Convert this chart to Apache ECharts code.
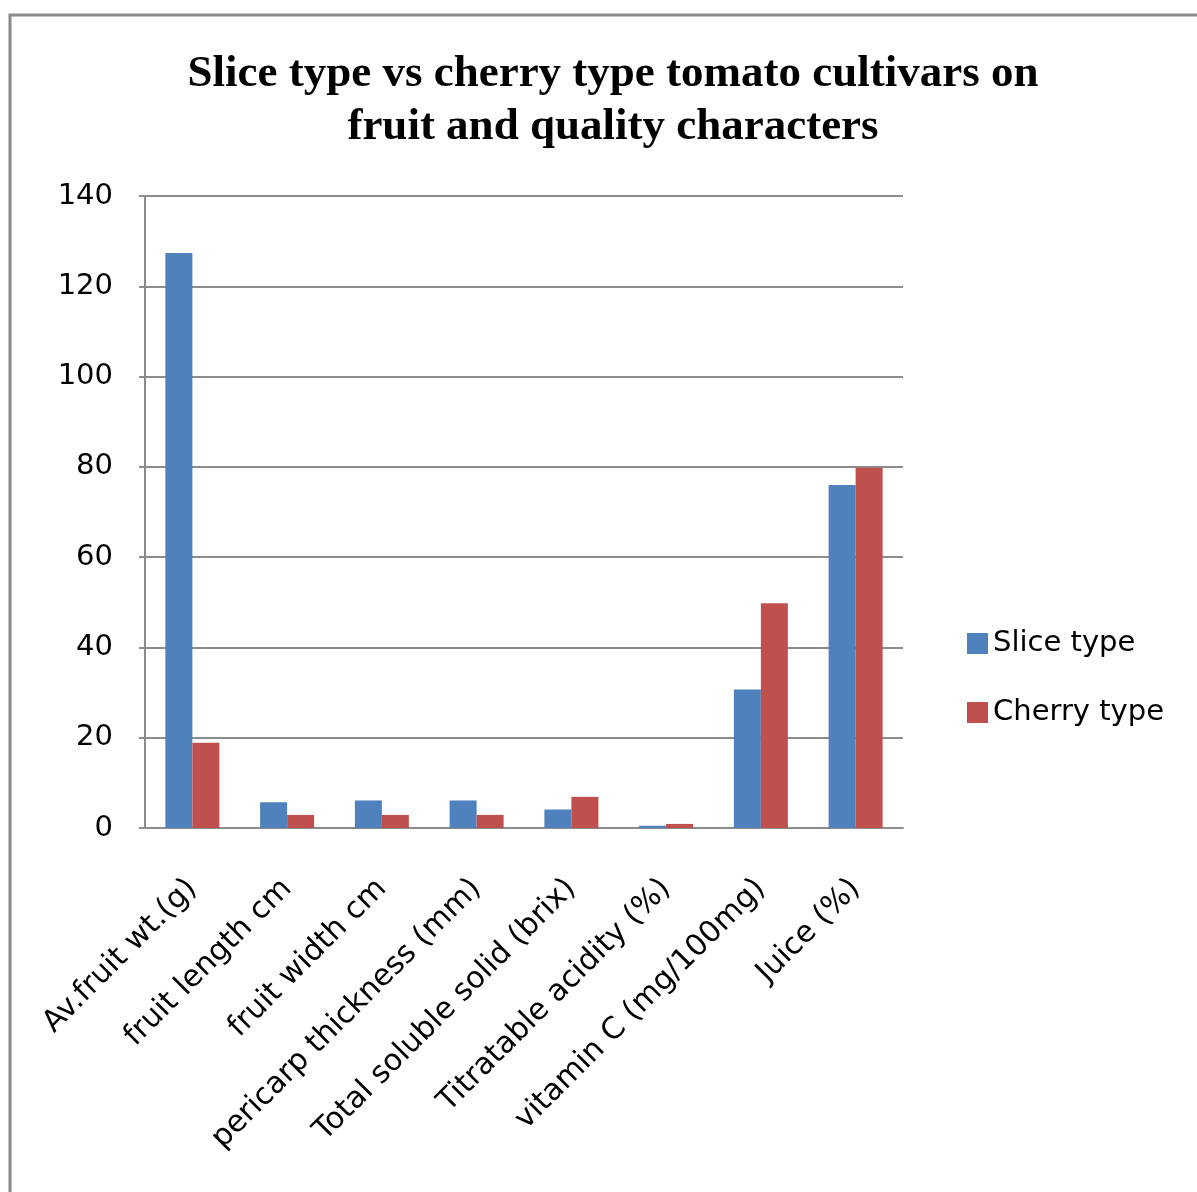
<!DOCTYPE html>
<html>
<head>
<meta charset="utf-8">
<script src="https://cdn.jsdelivr.net/npm/echarts@6/dist/echarts.min.js"></script>
<style>
  html, body { margin: 0; padding: 0; background: #fff; }
  #main { width: 1197px; height: 1192px; }
</style>
</head>
<body>
<div id="main"></div>
<script>
// Categories and values
const categories = [
    "Av.fruit wt.(g)",
    "fruit length cm",
    "fruit width cm",
    "pericarp thickness (mm)",
    "Total soluble solid (brix)",
    "Titratable acidity (%)",
    "vitamin C (mg/100mg)",
    "Juice (%)"
];
const sliceType = [127.4, 5.7, 6.1, 6.1, 4.1, 0.5, 30.7, 76.0];
const cherryType = [18.9, 2.9, 2.9, 2.9, 6.9, 0.9, 49.8, 79.8];
const seriesNames = ["Slice type", "Cherry type"];

document.addEventListener("DOMContentLoaded", function () {
    var chartDom = document.getElementById("main");
    var myChart = echarts.init(chartDom);

    const option = {
        backgroundColor: "#ffffff",
        animation: false,
        title: {
            text: "Slice type vs cherry type tomato cultivars on\nfruit and quality characters",
            left: 608,
            textAlign: "center",
            top: 43,
            textStyle: {
                fontFamily: "Liberation Serif",
                fontWeight: "bold",
                fontSize: 45,
                lineHeight: 53,
                color: "#000"
            }
        },
        graphic: [
            {
                type: "polyline",
                shape: { points: [[10, 1192], [10, 15], [1197, 15]] },
                style: { stroke: "#8a8a8a", lineWidth: 3, fill: null }
            }
        ],
        legend: {
            orient: "vertical",
            left: 962,
            top: 624,
            itemWidth: 21,
            itemHeight: 21,
            itemGap: 40,
            icon: "rect",
            textStyle: {
                fontFamily: "DejaVu Sans",
                fontSize: 29,
                color: "#000"
            },
            data: seriesNames
        },
        grid: {
            left: 145,
            top: 196,
            width: 758,
            height: 632
        },
        xAxis: {
            type: "category",
            data: categories,
            axisLine: { lineStyle: { color: "#8c8c8c", width: 2 } },
            axisTick: { show: false },
            axisLabel: {
                rotate: 45,
                interval: 0,
                margin: 56,
                fontFamily: "DejaVu Sans",
                fontSize: 30,
                color: "#000"
            }
        },
        yAxis: {
            type: "value",
            min: 0,
            max: 140,
            interval: 20,
            axisLine: { show: true, lineStyle: { color: "#8c8c8c", width: 2 } },
            axisTick: { show: true, length: 6, lineStyle: { color: "#8c8c8c", width: 2 } },
            splitLine: { lineStyle: { color: "#8c8c8c", width: 2 } },
            axisLabel: {
                margin: 32,
                fontFamily: "DejaVu Sans",
                fontSize: 29,
                color: "#000"
            }
        },
        series: [
            {
                name: seriesNames[0],
                type: "bar",
                data: sliceType,
                barWidth: 27,
                barGap: "0%",
                itemStyle: { color: "#4F81BD" }
            },
            {
                name: seriesNames[1],
                type: "bar",
                data: cherryType,
                barWidth: 27,
                barGap: "0%",
                itemStyle: { color: "#C0504D" }
            }
        ]
    };

    option && myChart.setOption(option);
});
</script>
</body>
</html>
